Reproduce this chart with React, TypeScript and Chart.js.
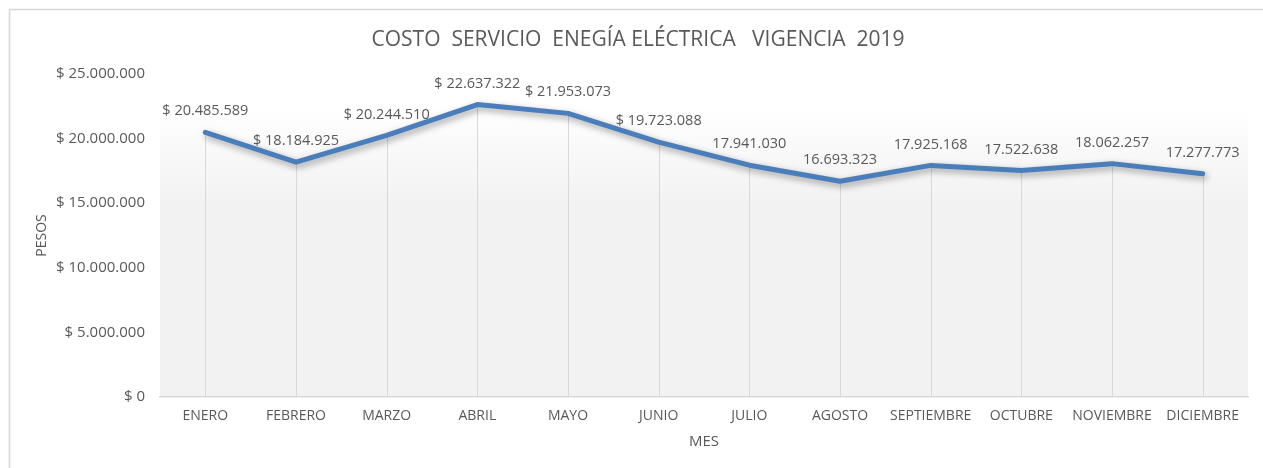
import React, { useEffect, useRef } from "react";
import { Chart, registerables } from "chart.js";

Chart.register(...registerables);

const months = [
  "ENERO", "FEBRERO", "MARZO", "ABRIL", "MAYO", "JUNIO",
  "JULIO", "AGOSTO", "SEPTIEMBRE", "OCTUBRE", "NOVIEMBRE", "DICIEMBRE",
];
const costs = [
  20485589, 18184925, 20244510, 22637322, 21953073, 19723088,
  17941030, 16693323, 17925168, 17522638, 18062257, 17277773,
];
const dataLabels = [
  "$ 20.485.589", "$ 18.184.925", "$ 20.244.510", "$ 22.637.322", "$ 21.953.073", "$ 19.723.088",
  "17.941.030", "16.693.323", "17.925.168", "17.522.638", "18.062.257", "17.277.773",
];
const yMin = 0;
const yMax = 25000000;
const yStep = 5000000;
const chartTitle = "COSTO  SERVICIO  ENEGÍA ELÉCTRICA   VIGENCIA  2019";
const yTitle = "PESOS";
const xTitle = "MES";

const FONT = "'Open Sans', sans-serif";
const TEXT = "#595959";

function fmt(v: number): string {
  return String(Math.round(v)).replace(/\B(?=(\d{3})+(?!\d))/g, ".");
}

const decorPlugin = {
  id: "decor",
  beforeDraw(chart: any) {
    const { ctx, width, height, chartArea: a } = chart;
    ctx.save();
    ctx.fillStyle = "#ffffff";
    ctx.fillRect(0, 0, width, height);
    ctx.strokeStyle = "#d6d6d6";
    ctx.lineWidth = 1.5;
    ctx.beginPath();
    ctx.moveTo(9.5, height);
    ctx.lineTo(9.5, 9.5);
    ctx.lineTo(width, 9.5);
    ctx.stroke();
    const g = ctx.createLinearGradient(0, a.top, 0, a.bottom);
    g.addColorStop(0, "#ffffff");
    g.addColorStop(0.1, "#ffffff");
    g.addColorStop(0.4, "#f2f2f2");
    g.addColorStop(1, "#f2f2f2");
    ctx.fillStyle = g;
    ctx.fillRect(a.left, a.top, a.right - a.left, a.bottom - a.top);
    ctx.restore();
  },
  beforeDatasetsDraw(chart: any) {
    const { ctx, chartArea: a } = chart;
    const meta = chart.getDatasetMeta(0);
    ctx.save();
    ctx.strokeStyle = "#d9d9d9";
    ctx.lineWidth = 1;
    meta.data.forEach((p: any) => {
      const x = Math.round(p.x) + 0.5;
      ctx.beginPath();
      ctx.moveTo(x, p.y);
      ctx.lineTo(x, a.bottom);
      ctx.stroke();
    });
    ctx.restore();
  },
  beforeDatasetDraw(chart: any) {
    const ctx = chart.ctx;
    ctx.save();
    ctx.shadowColor = "rgba(0,0,0,0.38)";
    ctx.shadowBlur = 7;
    ctx.shadowOffsetX = 2;
    ctx.shadowOffsetY = 3;
  },
  afterDatasetDraw(chart: any) {
    chart.ctx.restore();
  },
  afterDraw(chart: any) {
    const { ctx, chartArea: a } = chart;
    const meta = chart.getDatasetMeta(0);
    ctx.save();
    ctx.fillStyle = TEXT;
    ctx.textAlign = "center";
    ctx.textBaseline = "middle";
    ctx.font = `14.5px ${FONT}`;
    meta.data.forEach((p: any, i: number) => {
      ctx.fillText(dataLabels[i], p.x, p.y - 21);
    });
    // chart title
    ctx.font = `21px ${FONT}`;
    ctx.fillText(chartTitle, 638, 40);
    // x title
    ctx.font = `15px ${FONT}`;
    ctx.fillText(xTitle, (a.left + a.right) / 2, 442);
    // y title
    ctx.translate(42, (a.top + a.bottom) / 2);
    ctx.rotate(-Math.PI / 2);
    ctx.font = `14px ${FONT}`;
    ctx.fillText(yTitle, 0, 0);
    ctx.restore();
  },
};

export default function App() {
  const ref = useRef<HTMLCanvasElement | null>(null);
  useEffect(() => {
    if (!ref.current) return;
    const chart = new Chart(ref.current, {
      type: "line",
      data: {
        labels: months,
        datasets: [
          {
            data: costs,
            borderColor: "#4a7ebb",
            borderWidth: 5,
            pointRadius: 0,
            tension: 0,
            borderCapStyle: "round",
            borderJoinStyle: "round",
            fill: false,
          },
        ],
      },
      options: {
        animation: false,
        responsive: false,
        layout: { padding: { top: 74, right: 15, bottom: 0, left: 0 } },
        plugins: {
          legend: { display: false },
          title: { display: false },
          tooltip: { enabled: false },
        },
        scales: {
          x: {
            offset: true,
            grid: { display: false, drawTicks: false },
            border: { display: true, color: "#d9d9d9", width: 1.5 },
            ticks: { color: TEXT, font: { family: FONT, size: 14 }, padding: 11, maxRotation: 0, autoSkip: false },
            afterFit(scale: any) {
              scale.height = 71;
            },
          },
          y: {
            min: yMin,
            max: yMax,
            grid: { display: false, drawTicks: false },
            border: { display: false },
            ticks: {
              stepSize: yStep,
              color: TEXT,
              font: { family: FONT, size: 15 },
              padding: 15,
              callback: (v: any) => "$ " + fmt(Number(v)),
            },
            afterFit(scale: any) {
              scale.width = 160;
            },
          },
        },
      },
      plugins: [decorPlugin],
    });
    return () => chart.destroy();
  }, []);
  return (
    <div style={{ position: "absolute", left: 0, top: 0, width: 1263, height: 468 }}>
      <canvas ref={ref} width={1263} height={468} style={{ width: 1263, height: 468, display: "block" }} />
    </div>
  );
}
